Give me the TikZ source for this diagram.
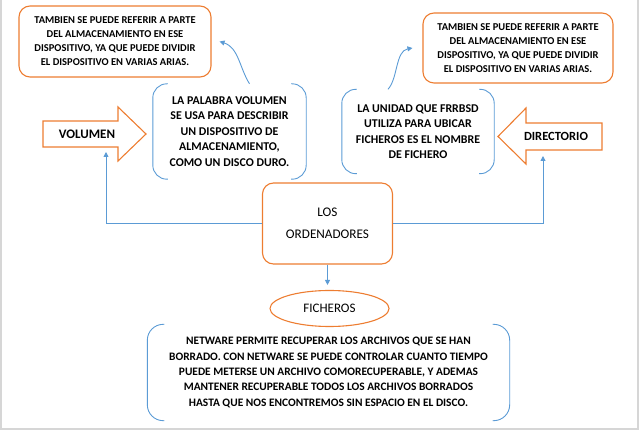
\documentclass[tikz,border=0pt]{standalone}
\usepackage{fontspec}
\setmainfont{Carlito}
\usetikzlibrary{arrows.meta,positioning,calc,shapes.geometric}
\definecolor{corange}{RGB}{237,125,49}
\definecolor{cblue}{RGB}{91,155,213}
\definecolor{cframe}{RGB}{214,214,214}

\begin{document}
\begin{tikzpicture}[x=1pt,y=-1pt,>={Triangle[length=5pt,width=5pt]},
  obox/.style={draw=corange,line width=1.1pt,rounded corners=11pt,align=center},
  note/.style={align=center,font=\bfseries\fontsize{10.5}{14}\selectfont},
  bluenote/.style={align=center,font=\bfseries\fontsize{11.9}{15.5}\selectfont},
  brace/.style={draw=cblue,line width=0.9pt,rounded corners=14pt},
  oarrow/.style={draw=corange,line width=1.1pt,line join=miter},
  body/.style={inner sep=0pt,outer sep=0pt},
  link/.style={->,draw=cblue,line width=0.9pt}]
\useasboundingbox (0,0) rectangle (640,430);
% ---------- frame ----------
\draw[cframe,line width=2pt] (1,0) -- (1,429) -- (638,429) -- (638,0);
% ---------- top notes ----------
\node[obox,note,minimum width=192pt,minimum height=71pt] (ltam) at (115,41.5)
  {TAMBIEN SE PUEDE REFERIR A PARTE\\DEL ALMACENAMIENTO EN ESE\\DISPOSITIVO, YA QUE PUEDE DIVIDIR\\EL DISPOSITIVO EN VARIAS ARIAS.};
\node[obox,note,minimum width=190pt,minimum height=70pt] (rtam) at (518,48)
  {TAMBIEN SE PUEDE REFERIR A PARTE\\DEL ALMACENAMIENTO EN ESE\\DISPOSITIVO, YA QUE PUEDE DIVIDIR\\EL DISPOSITIVO EN VARIAS ARIAS.};
% ---------- bracket boxes ----------
\node[bluenote,minimum width=153pt,minimum height=95pt] (lvol) at (229.5,131.5)
  {LA PALABRA VOLUMEN\\SE USA PARA DESCRIBIR\\UN DISPOSITIVO DE\\ALMACENAMIENTO,\\COMO UN DISCO DURO.};
\draw[brace] ([xshift=15pt]lvol.north west) -- (lvol.north west) -- (lvol.south west) -- ([xshift=15pt]lvol.south west);
\draw[brace] ([xshift=-15pt]lvol.north east) -- (lvol.north east) -- (lvol.south east) -- ([xshift=-15pt]lvol.south east);
\node[bluenote,minimum width=152pt,minimum height=84pt] (rvol) at (418,131.5)
  {LA UNIDAD QUE FRRBSD\\UTILIZA PARA UBICAR\\FICHEROS ES EL NOMBRE\\DE FICHERO};
\draw[brace] ([xshift=15pt]rvol.north west) -- (rvol.north west) -- (rvol.south west) -- ([xshift=15pt]rvol.south west);
\draw[brace] ([xshift=-15pt]rvol.north east) -- (rvol.north east) -- (rvol.south east) -- ([xshift=-15pt]rvol.south east);
% ---------- block arrows ----------
\node[body,minimum width=75pt,minimum height=26pt] (volbody) at (80.5,134) {};
\draw[oarrow] (volbody.north west) -- (volbody.north east) -- ++(0,-14) -- ($(volbody.east)+(28,0)$)
  -- ($(volbody.south east)+(0,14)$) -- (volbody.south east) -- (volbody.south west) -- cycle;
\node[font=\bfseries\fontsize{13}{14}\selectfont] (volumen) at (87,134) {VOLUMEN};
\node[body,minimum width=76pt,minimum height=27pt] (dirbody) at (564,136.5) {};
\draw[oarrow] (dirbody.north east) -- (dirbody.north west) -- ++(0,-15) -- ($(dirbody.west)+(-28,0)$)
  -- ($(dirbody.south west)+(0,14)$) -- (dirbody.south west) -- (dirbody.south east) -- cycle;
\node[font=\bfseries\fontsize{12.5}{14}\selectfont] (directorio) at (556,136) {DIRECTORIO};
% ---------- centre ----------
\node[obox,font=\fontsize{13.2}{22}\selectfont,minimum width=130pt,minimum height=81pt] (ordenadores) at (327.5,223.5)
  {LOS\\ORDENADORES};
\node[ellipse,draw=corange,line width=1.1pt,inner sep=0pt,minimum width=119pt,minimum height=36pt,
  font=\fontsize{13}{14}\selectfont] (ficheros) at (329.5,308.5) {FICHEROS};
\node[bluenote,font=\bfseries\fontsize{11.4}{15.3}\selectfont,minimum width=362pt,minimum height=96pt] (netware) at (328.5,372.5)
  {NETWARE PERMITE RECUPERAR LOS ARCHIVOS QUE SE HAN\\BORRADO. CON NETWARE SE PUEDE CONTROLAR CUANTO TIEMPO\\PUEDE METERSE UN ARCHIVO COMORECUPERABLE, Y ADEMAS\\MANTENER RECUPERABLE TODOS LOS ARCHIVOS BORRADOS\\HASTA QUE NOS ENCONTREMOS SIN ESPACIO EN EL DISCO.};
\draw[brace,rounded corners=16pt] ([xshift=17pt]netware.north west) -- (netware.north west) -- (netware.south west) -- ([xshift=17pt]netware.south west);
\draw[brace,rounded corners=16pt] ([xshift=-17pt]netware.north east) -- (netware.north east) -- (netware.south east) -- ([xshift=-17pt]netware.south east);
% ---------- connectors ----------
\coordinate (volfoot) at ([xshift=25.5pt]volbody.south);
\coordinate (dirfoot) at ([xshift=-21pt]dirbody.south);
\draw[link,shorten >=5pt] (ordenadores.west) -| (volfoot);
\draw[link,shorten >=6pt] (ordenadores.east) -| (dirfoot);
\draw[link,shorten >=5pt] (ordenadores.south) -- (ordenadores.south |- ficheros.north);
\draw[link] ([xshift=20pt]lvol.north) .. controls +(-10,-16) and +(19,6) .. ([xshift=8pt]ltam.east);
\draw[link] ([xshift=-30pt]rvol.north) .. controls +(10,-11) and +(-17,3) .. ([xshift=-10pt]rtam.west);
\end{tikzpicture}
\end{document}
